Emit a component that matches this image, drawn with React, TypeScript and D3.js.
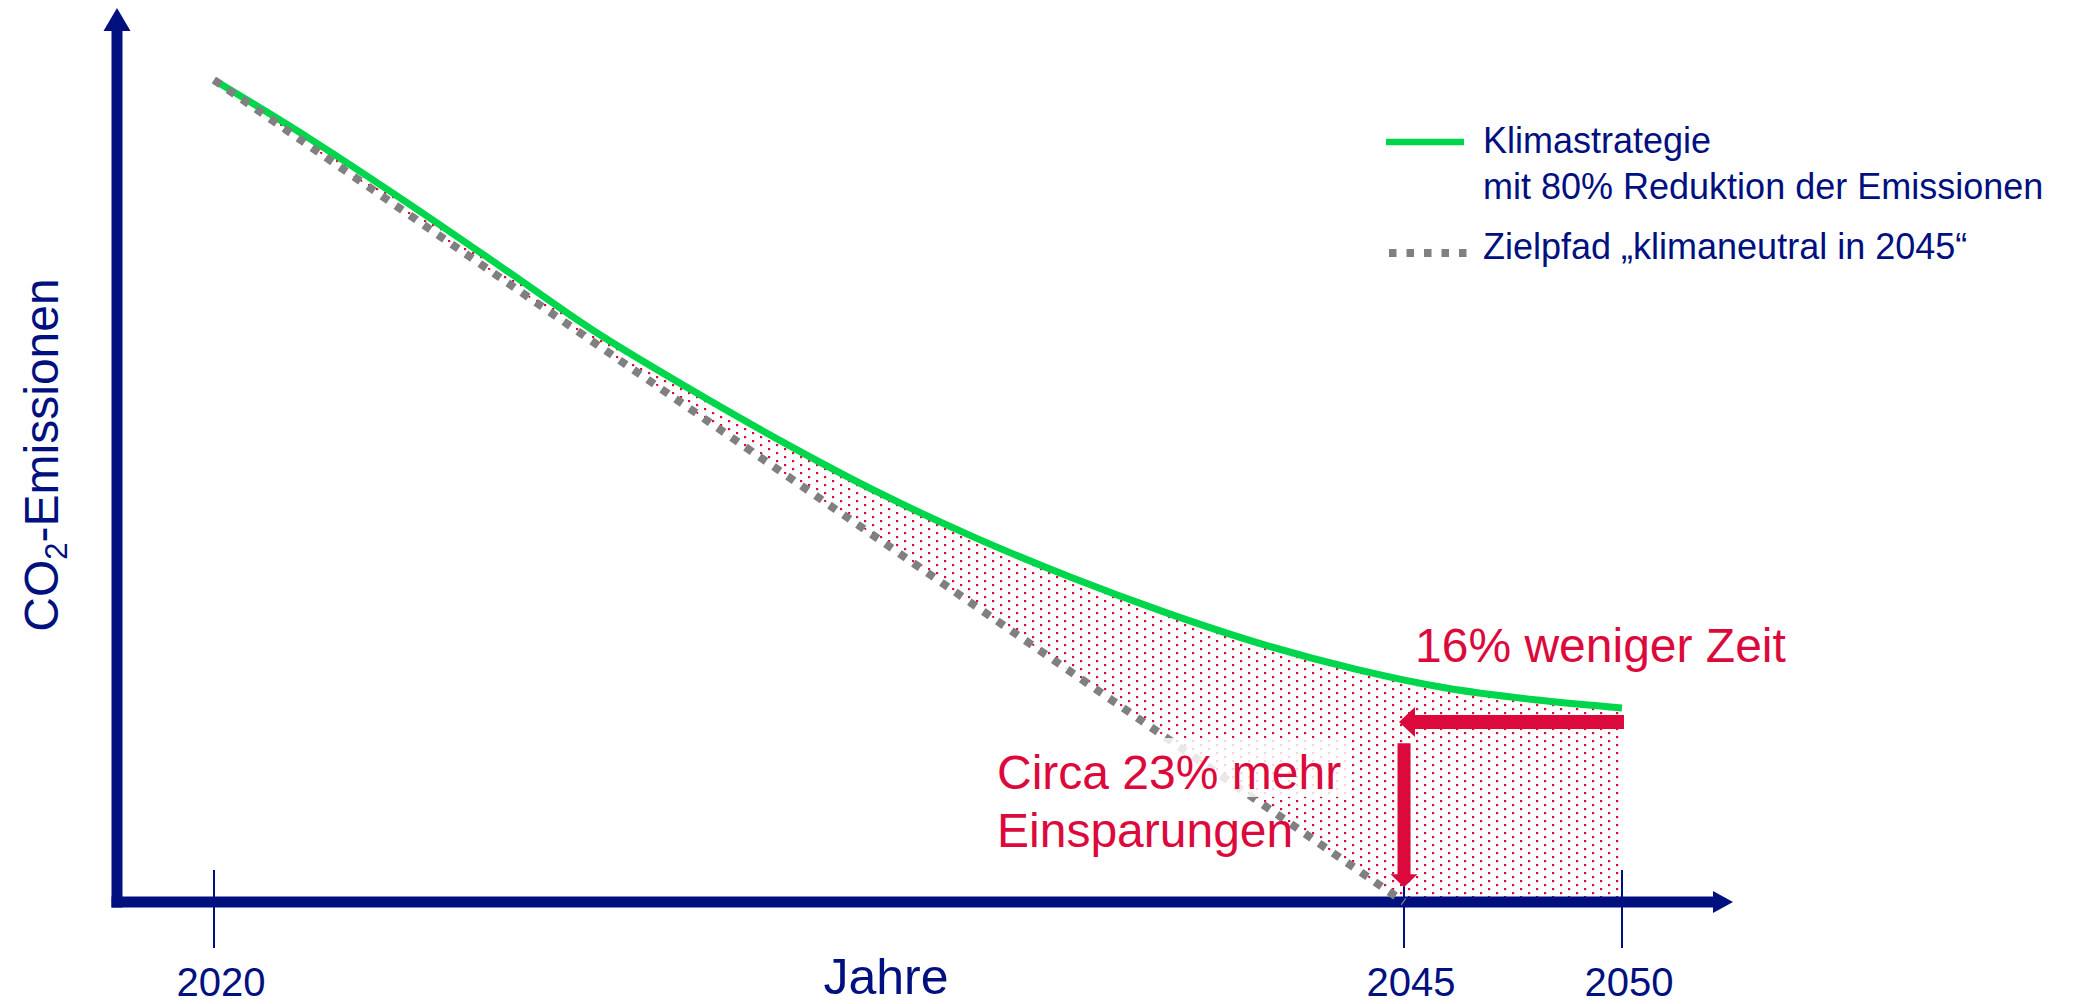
import React from "react";
import * as d3 from "d3";

// ---- data ----
const tickYears = [2020, 2045, 2050];
const tickLabels = ["2020", "2045", "2050"];

// Klimastrategie (80% reduction path), index 2020 = 100
const strategyYears = [2020, 2022, 2024, 2026, 2028, 2030, 2032, 2034, 2036, 2038, 2040, 2042, 2044, 2046, 2048, 2050];
const strategyValues = [100, 92.9, 85.3, 77.4, 69.4, 62.4, 55.8, 49.7, 44.3, 39.5, 35.2, 31.4, 28.3, 26.0, 24.6, 23.6];

// Zielpfad "klimaneutral in 2045"
const targetYears = [2020, 2045];
const targetValues = [100, 0];

// annotation arrows (in data units)
const timeArrow = { fromYear: 2050, toYear: 2045, level: 21.9 };
const savingsArrow = { year: 2045, fromLevel: 19.3, toLevel: 1.8 };

const legendLabels = ["Klimastrategie", "mit 80% Reduktion der Emissionen", "Zielpfad \u201Eklimaneutral in 2045\u201C"];
const annotationTime = "16% weniger Zeit";
const annotationSavings = ["Circa 23% mehr", "Einsparungen"];

const W = 2090;
const H = 1004;
const NAVY = "#00107F";
const GREEN = "#00D64B";
const RED = "#DC0A3C";
const GRAY = "#808080";
const FONT = "'Liberation Sans', Arial, sans-serif";

export default function App() {
  const x = d3.scaleLinear().domain([2020, 2045, 2050]).range([214, 1404, 1622]);
  const y = d3.scaleLinear().domain([0, 100]).range([902, 80]);

  const strategy = strategyYears.map((yr, i) => ({ yr, v: strategyValues[i] }));
  const target = targetYears.map((yr, i) => ({ yr, v: targetValues[i] }));

  const greenLine = d3
    .line<{ yr: number; v: number }>()
    .x((d) => x(d.yr))
    .y((d) => y(d.v))
    .curve(d3.curveMonotoneX);
  const straight = d3
    .line<{ yr: number; v: number }>()
    .x((d) => x(d.yr))
    .y((d) => y(d.v));

  const greenPath = greenLine(strategy) || "";
  const bottom = [{ yr: 2050, v: 0 }, { yr: targetYears[1], v: targetValues[1] }, { yr: targetYears[0], v: targetValues[0] }];
  const fillPath = greenPath + (straight(bottom) || "").replace(/^M/, "L") + "Z";
  const targetPath = straight(target) || "";

  const axisX = 117; // y-axis position
  const axisY = y(0);

  // horizontal arrow
  const hY = y(timeArrow.level);
  const hTail = x(timeArrow.fromYear) + 2;
  const hTip = x(timeArrow.toYear) - 5;
  const hHead = 16, hHalf = 15, hShaft = 7;
  const hArrow = [
    [hTail, hY - hShaft], [hTip + hHead, hY - hShaft], [hTip + hHead, hY - hHalf], [hTip, hY],
    [hTip + hHead, hY + hHalf], [hTip + hHead, hY + hShaft], [hTail, hY + hShaft],
  ];
  // vertical arrow
  const vX = x(savingsArrow.year);
  const vTop = y(savingsArrow.fromLevel);
  const vTip = y(savingsArrow.toLevel);
  const vHead = 13, vHalf = 13.5, vShaft = 6.5;
  const vArrow = [
    [vX - vShaft, vTop], [vX + vShaft, vTop], [vX + vShaft, vTip - vHead], [vX + vHalf, vTip - vHead],
    [vX, vTip], [vX - vHalf, vTip - vHead], [vX - vShaft, vTip - vHead],
  ];
  const poly = (pts: number[][]) => "M" + pts.map((p) => p.join(",")).join("L") + "Z";

  return (
    <svg
      width={W}
      height={H}
      style={{ position: "absolute", left: 0, top: 0, background: "#fff" }}
      fontFamily={FONT}
    >
      <defs>
        <pattern id="dots" width={16} height={8} patternUnits="userSpaceOnUse">
          <rect x={0} y={0} width={2.2} height={2.2} fill={RED} />
          <rect x={8} y={4} width={2.2} height={2.2} fill={RED} />
        </pattern>
      </defs>

      {/* dotted savings area */}
      <path d={fillPath} fill="url(#dots)" stroke="none" />

      {/* axes */}
      <rect x={axisX - 5.5} y={30} width={11} height={axisY + 5.5 - 30} fill={NAVY} />
      <path d={`M${axisX},8L${axisX + 13.5},31L${axisX - 13.5},31Z`} fill={NAVY} />
      <rect x={axisX - 5.5} y={axisY - 5.5} width={1714 - (axisX - 5.5)} height={11} fill={NAVY} />
      <path d={`M1733,${axisY}L1713,${axisY - 11}L1713,${axisY + 11}Z`} fill={NAVY} />

      {/* ticks */}
      {tickYears.map((yr, i) => (
        <g key={yr}>
          <line x1={x(yr)} x2={x(yr)} y1={870} y2={948} stroke={NAVY} strokeWidth={2} />
          <text x={x(yr) + 7} y={996} textAnchor="middle" fontSize={40} fill={NAVY}>
            {tickLabels[i]}
          </text>
        </g>
      ))}

      {/* axis titles */}
      <text x={886} y={994} textAnchor="middle" fontSize={50} fill={NAVY}>
        Jahre
      </text>
      <text transform="translate(58,455) rotate(-90)" textAnchor="middle" fontSize={48} fill={NAVY}>
        CO
        <tspan fontSize={31} dy={9}>2</tspan>
        <tspan dy={-9}>-Emissionen</tspan>
      </text>

      {/* series */}
      <path d={greenPath} fill="none" stroke={GREEN} strokeWidth={7} />
      <path d={targetPath} fill="none" stroke={GRAY} strokeWidth={8} strokeDasharray="8 9" />

      {/* text box & annotations */}
      <rect x={988} y={738} width={360} height={59} fill="#fff" opacity={0.82} />
      <path d={poly(hArrow)} fill={RED} />
      <path d={poly(vArrow)} fill={RED} />
      <text x={1415} y={662} fontSize={48} fill={RED}>
        {annotationTime}
      </text>
      <text x={997} y={789} fontSize={48} fill={RED}>
        {annotationSavings[0]}
      </text>
      <text x={997} y={847} fontSize={48} fill={RED}>
        {annotationSavings[1]}
      </text>

      {/* legend */}
      <line x1={1386} x2={1464} y1={142} y2={142} stroke={GREEN} strokeWidth={6.5} />
      <text x={1483} y={153} fontSize={36} fill={NAVY}>
        {legendLabels[0]}
      </text>
      <text x={1483} y={199} fontSize={36} fill={NAVY}>
        {legendLabels[1]}
      </text>
      <line x1={1389} x2={1467} y1={253} y2={253} stroke={GRAY} strokeWidth={8} strokeDasharray="7.5 10" />
      <text x={1483} y={259} fontSize={36} fill={NAVY}>
        {legendLabels[2]}
      </text>
    </svg>
  );
}
